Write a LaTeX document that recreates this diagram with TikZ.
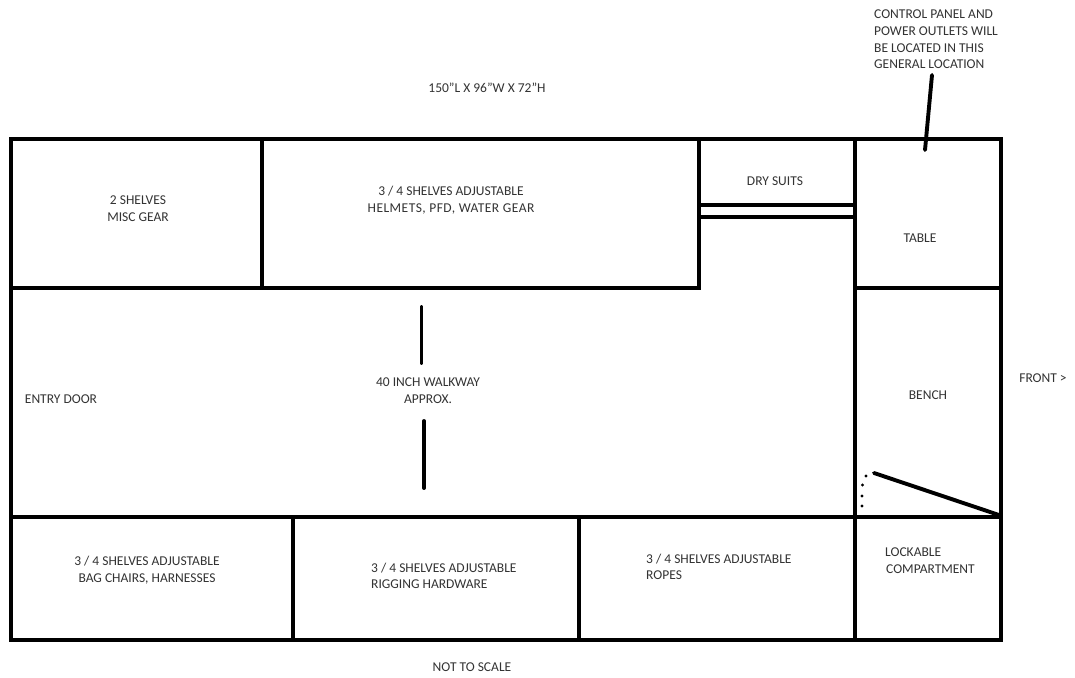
\documentclass[tikz,border=0pt]{standalone}
\usepackage{fontspec}
\setmainfont{Carlito}
\begin{document}
\begin{tikzpicture}[x=1pt,y=-1pt,
 wall/.style={line width=3.9pt,line cap=round,draw=black},
 lbl/.style={font=\fontsize{13.5}{16.7}\selectfont,text=black!80,align=center,inner sep=0pt}]
\useasboundingbox (0,0) rectangle (1075,677);
\fill[white] (0,0) rectangle (1075,677);
\draw[wall,line cap=rect] (11,139) rectangle (1001,640);
\draw[wall] (11,288) -- (699,288) -- (699,139);
\draw[wall] (262,139) -- (262,288);
\draw[wall] (699,205) -- (855,205);
\draw[wall] (699,217) -- (855,217);
\draw[wall] (855,139) -- (855,640);
\draw[wall] (855,288) -- (1001,288);
\draw[wall] (11,517) -- (1001,517);
\draw[wall] (293,517) -- (293,640);
\draw[wall] (579,517) -- (579,640);
\draw[wall] (874,473) -- (999,515);
\draw[wall] (421.5,307) -- (421.5,363);
\draw[wall] (424,421) -- (424,488);
\draw[wall] (932,75) -- (925,150);
\foreach \p in {(866,476),(862.5,485),(862,496),(862,506)} \fill \p circle (1.7);
\node[lbl] (a) at (487,88) {150"L X 96"W X 72"H};
\node[lbl,align=left,anchor=west] (b) at (874,39.5) {CONTROL PANEL AND\\POWER OUTLETS WILL\\BE LOCATED IN THIS\\GENERAL LOCATION};
\node[lbl] (c) at (138,209) {2 SHELVES\\MISC GEAR};
\node[lbl] (d) at (451,200) {3 / 4 SHELVES ADJUSTABLE\\{\addfontfeature{LetterSpace=3.5}HELMETS, PFD, WATER GEAR}};
\node[lbl] (e) at (775,181) {DRY SUITS};
\node[lbl] (f) at (920,238) {TABLE};
\node[lbl] (g) at (928,395) {BENCH};
\node[lbl] (h) at (1043,378) {FRONT >};
\node[lbl] (i) at (61,399) {ENTRY DOOR};
\node[lbl] (j) at (428,391) {40 INCH WALKWAY\\APPROX.};
\node[lbl] (k) at (147,570) {3 / 4 SHELVES ADJUSTABLE\\BAG CHAIRS, HARNESSES};
\node[lbl,align=left,anchor=west] (l) at (371,576) {3 / 4 SHELVES ADJUSTABLE\\RIGGING HARDWARE};
\node[lbl,align=left,anchor=west] (m) at (646,567) {3 / 4 SHELVES ADJUSTABLE\\ROPES};
\node[lbl,align=left,anchor=west] (n) at (885,561) {LOCKABLE\\\hspace*{1pt}COMPARTMENT};
\node[lbl] (o) at (472,667) {NOT TO SCALE};
\end{tikzpicture}
\end{document}
